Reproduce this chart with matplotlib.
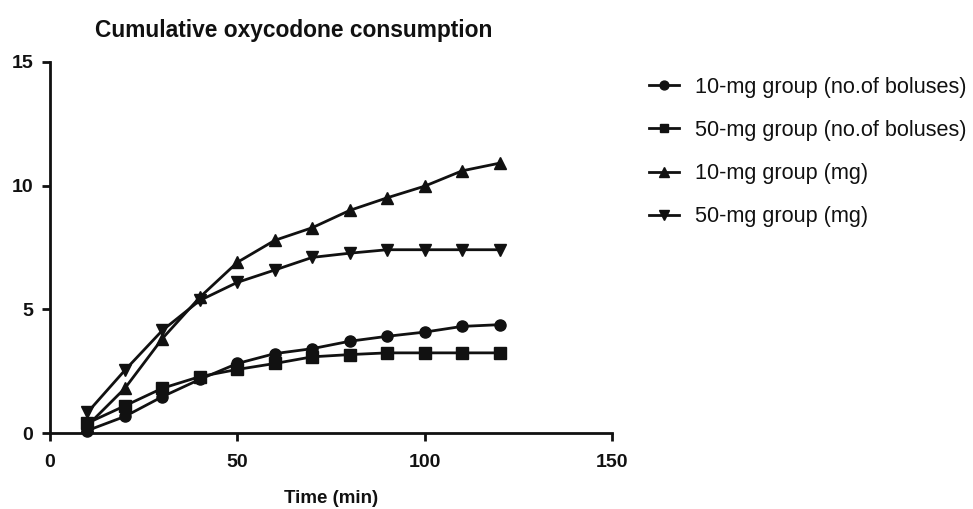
import matplotlib
matplotlib.use("Agg")
import matplotlib.pyplot as plt

plt.rcParams['font.family'] = ['Liberation Sans', 'DejaVu Sans']

time = [10, 20, 30, 40, 50, 60, 70, 80, 90, 100, 110, 120]
bolus_10 = [0.1, 0.67, 1.47, 2.17, 2.81, 3.21, 3.41, 3.71, 3.91, 4.08, 4.31, 4.38]
bolus_50 = [0.4, 1.1, 1.81, 2.28, 2.57, 2.81, 3.08, 3.17, 3.24, 3.24, 3.24, 3.24]
mg_10 = [0.3, 1.81, 3.82, 5.49, 6.9, 7.79, 8.3, 9.0, 9.51, 9.98, 10.6, 10.91]
mg_50 = [0.83, 2.54, 4.15, 5.36, 6.09, 6.59, 7.1, 7.27, 7.41, 7.41, 7.41, 7.41]
labels = ["10-mg group (no.of boluses)", "50-mg group (no.of boluses)",
          "10-mg group (mg)", "50-mg group (mg)"]
xticks = [0, 50, 100, 150]
yticks = [0, 5, 10, 15]

W, H = 973, 509
fig = plt.figure(figsize=(W / 100, H / 100), dpi=100)
ax = fig.add_axes([50 / W, 1 - 433 / H, (612 - 50) / W, (433 - 62) / H])

series = [bolus_10, bolus_50, mg_10, mg_50]
markers = ['o', 's', '^', 'v']
msizes = [8, 8, 9, 9]
for s, m, ms, lab in zip(series, markers, msizes, labels):
    ax.plot(time, s, color='#111111', lw=2, marker=m, ms=ms, label=lab,
            clip_on=False, zorder=3)

ax.set_xlim(0, 150)
ax.set_ylim(0, 15)
ax.set_xticks(xticks)
ax.set_yticks(yticks)
for sp in ['top', 'right']:
    ax.spines[sp].set_visible(False)
for sp in ['left', 'bottom']:
    ax.spines[sp].set_linewidth(2)
    ax.spines[sp].set_color('#111111')
ax.tick_params(direction='out', length=6, width=2, color='#111111',
               labelsize=14, labelcolor='#111111')
ax.tick_params(axis='x', pad=9)
ax.tick_params(axis='y', pad=6)
for t in ax.get_xticklabels() + ax.get_yticklabels():
    t.set_fontweight('bold')
ax.set_xlabel("Time (min)", fontsize=13.5, fontweight='bold', labelpad=14,
              color='#111111')

fig.text(95 / W, 1 - 30 / H, "Cumulative oxycodone consumption",
         fontsize=16.4, fontweight='bold', ha='left', va='center', color='#111111')

leg = ax.legend(loc='upper left', bbox_to_anchor=(629 / W, 1 - 57 / H),
                bbox_transform=fig.transFigure, frameon=False, fontsize=15.6,
                handlelength=1.4, handletextpad=0.75, labelspacing=1.03,
                markerscale=0.8)
for t in leg.get_texts():
    t.set_color('#111111')

fig.savefig("out.png", dpi=100)
